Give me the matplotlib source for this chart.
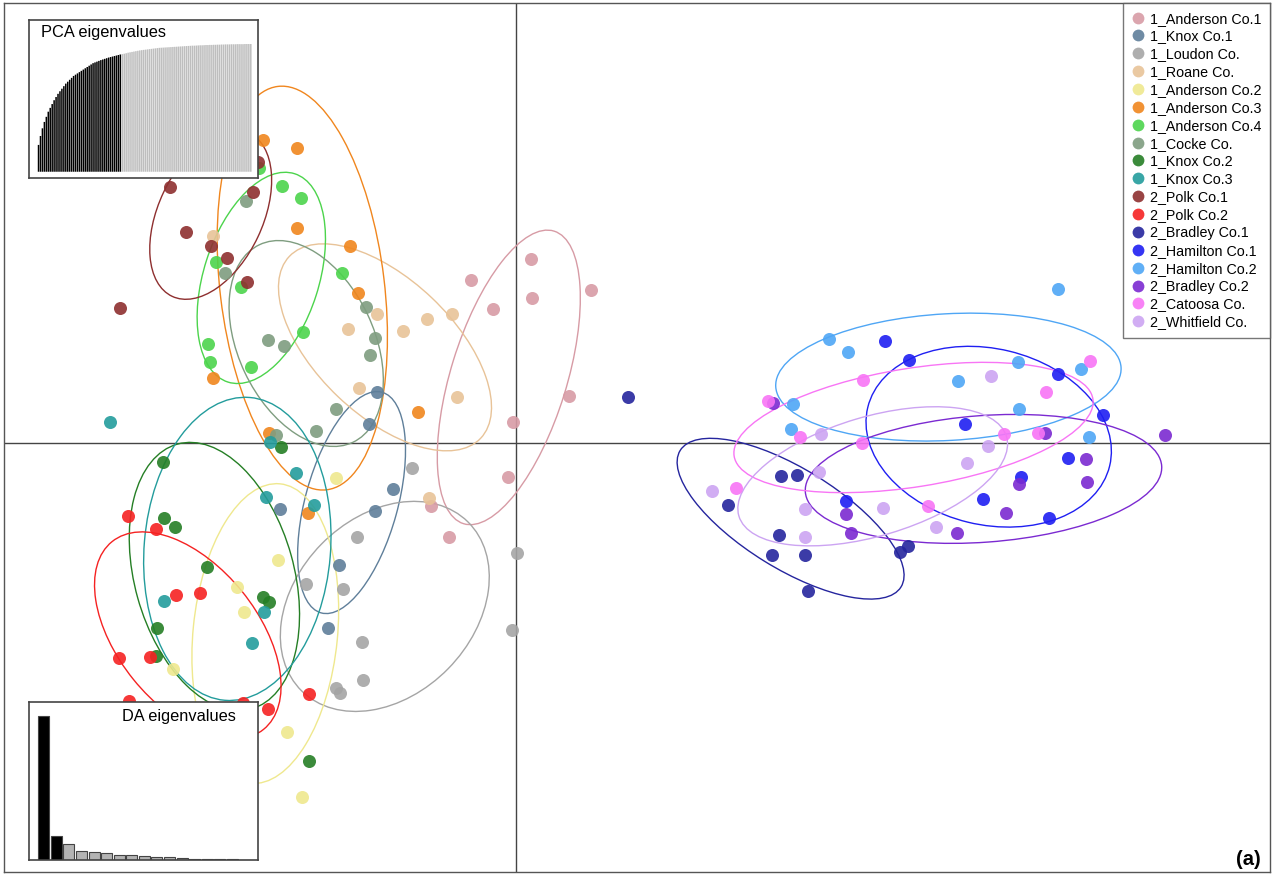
import numpy as np
import matplotlib.pyplot as plt
from matplotlib.patches import Ellipse
from matplotlib.lines import Line2D

plt.rcParams['font.family'] = ['Liberation Sans', 'DejaVu Sans']

# populations, in legend order
groups = ['1_Anderson Co.1', '1_Knox Co.1', '1_Loudon Co.', '1_Roane Co.',
          '1_Anderson Co.2', '1_Anderson Co.3', '1_Anderson Co.4', '1_Cocke Co.',
          '1_Knox Co.2', '1_Knox Co.3', '2_Polk Co.1', '2_Polk Co.2',
          '2_Bradley Co.1', '2_Hamilton Co.1', '2_Hamilton Co.2', '2_Bradley Co.2',
          '2_Catoosa Co.', '2_Whitfield Co.']

colors = ['#D79BA5', '#5F7F9A', '#A5A5A5', '#E8C398', '#EFE88E', '#F0861E',
          '#4CD44C', '#7F9D80', '#257F25', '#239C9C', '#8E2F2F', '#F52222',
          '#25259E', '#1F1FF2', '#4FA6F5', '#7B2AD1', '#F875F5', '#CCA4F2']

# discriminant scores per individual (LD1, LD2), one list per population
ld1 = [
    [-0.90, 0.30, 1.50, 0.32, -0.46, 1.06, -0.06, -0.16, -1.70, -1.34],
    [-2.78, -2.94, -2.46, -2.82, -4.72, -3.54, -3.76],
    [-2.08, -3.18, -4.20, -3.46, -3.08, -3.06, -3.60, -3.52, 0.02, -0.08],
    [-6.06, -2.78, -3.36, -2.26, -1.78, -1.28, -3.14, -1.18, -1.74],
    [-3.60, -4.76, -5.58, -5.44, -6.86, -4.58, -4.28],
    [-5.06, -4.38, -4.38, -3.32, -3.16, -6.06, -1.96, -4.94, -4.16, -5.32],
    [-5.14, -4.68, -4.30, -6.00, -5.50, -3.48, -4.26, -6.16, -6.12, -5.30],
    [-5.40, -5.82, -3.00, -2.82, -2.92, -4.96, -4.64, -3.60, -4.00, -4.80],
    [-4.70, -7.06, -7.04, -6.82, -6.18, -5.06, -4.94, -7.18, -7.20, -4.14],
    [-8.12, -4.92, -4.40, -5.00, -4.04, -7.04, -5.04, -5.28, -6.32],
    [-5.16, -6.92, -5.26, -6.60, -6.10, -5.78, -5.38, -7.92, -5.72, -6.22],
    [-7.76, -7.20, -6.80, -6.32, -7.94, -7.32, -7.74, -5.46, -4.96, -4.14],
    [2.24, 5.30, 5.62, 4.24, 5.26, 5.12, 5.78, 5.84, 7.68, 7.84],
    [7.38, 7.86, 10.84, 11.74, 8.98, 11.04, 10.10, 9.34, 10.66, 6.60],
    [10.84, 6.26, 6.64, 10.04, 11.30, 8.84, 5.54, 10.06, 5.50, 11.46],
    [5.14, 10.58, 12.98, 11.40, 11.42, 10.06, 9.80, 6.60, 6.70, 8.82],
    [5.04, 6.94, 11.48, 10.60, 5.68, 9.76, 10.44, 6.92, 4.40, 8.24],
    [9.50, 6.10, 9.44, 9.02, 6.06, 3.92, 5.78, 7.34, 5.78, 8.40],
]
ld2 = [
    [3.26, 3.68, 3.06, 2.90, 2.68, 0.94, 0.42, -0.68, -1.26, -1.88],
    [1.02, 0.38, -0.92, -1.36, -1.32, -2.44, -3.70],
    [-0.50, -1.88, -2.82, -2.92, -3.98, -4.74, -4.90, -5.00, -2.20, -3.74],
    [4.14, 2.58, 2.28, 2.24, 2.48, 2.58, 1.10, 0.92, -1.10],
    [-0.70, -2.34, -2.88, -3.38, -4.52, -5.78, -7.08],
    [6.06, 5.90, 4.30, 3.94, 3.00, 1.30, 0.62, 0.20, -1.40, 7.06],
    [5.50, 5.14, 4.90, 3.62, 3.12, 3.40, 2.22, 1.98, 1.62, 1.52],
    [4.84, 3.40, 2.72, 2.10, 1.76, 2.06, 1.94, 0.68, 0.24, 0.16],
    [-0.08, -0.38, -1.50, -1.68, -2.48, -3.08, -3.18, -3.70, -4.26, -6.36],
    [0.42, 0.02, -0.60, -1.08, -1.24, -3.16, -3.38, -4.00, -6.04],
    [5.62, 5.12, 5.02, 4.22, 3.94, 3.70, 3.22, 2.70, 6.26, 5.86],
    [-1.46, -1.72, -3.04, -3.00, -4.30, -4.28, -5.16, -5.20, -5.32, -5.02],
    [0.92, -0.66, -0.64, -1.24, -1.84, -2.24, -2.24, -2.96, -2.18, -2.06],
    [2.04, 1.66, 1.38, 0.56, 0.38, -0.30, -0.68, -1.12, -1.50, -1.16],
    [3.08, 2.08, 1.82, 1.62, 1.48, 1.24, 0.78, 0.68, 0.28, 0.12],
    [0.80, 0.20, 0.16, -0.32, -0.78, -0.82, -1.40, -1.42, -1.80, -1.80],
    [0.84, 1.26, 1.64, 1.02, 0.12, 0.18, 0.20, 0.00, -0.90, -1.26],
    [1.34, 0.18, -0.06, -0.40, -0.58, -0.96, -1.32, -1.30, -1.88, -1.68],
]

# cumulative variance of the PCA axes and the DA eigenvalues
pca_cumvar = [
    0.21, 0.28, 0.34, 0.39, 0.43, 0.47, 0.50, 0.53, 0.56, 0.585,
    0.61, 0.63, 0.65, 0.67, 0.69, 0.705, 0.72, 0.735, 0.75, 0.76,
    0.77, 0.78, 0.79, 0.80, 0.81, 0.82, 0.83, 0.84, 0.85, 0.856,
    0.862, 0.868, 0.874, 0.879, 0.884, 0.889, 0.894, 0.898, 0.902, 0.906,
    0.910, 0.914, 0.918,
    0.921, 0.924, 0.928, 0.932, 0.935, 0.938, 0.941, 0.944, 0.947, 0.95,
    0.952, 0.954, 0.956, 0.958, 0.96, 0.962, 0.964, 0.966, 0.968, 0.97,
    0.971, 0.972, 0.973, 0.974, 0.975, 0.976, 0.977, 0.978, 0.979, 0.98,
    0.981, 0.982, 0.983, 0.984, 0.985, 0.986, 0.987, 0.987, 0.988, 0.989,
    0.99, 0.99, 0.991, 0.992, 0.992, 0.993, 0.993, 0.994, 0.994, 0.995,
    0.995, 0.996, 0.996, 0.997, 0.997, 0.997, 0.998, 0.998, 0.998, 0.999,
    0.999, 0.999, 0.999, 1.0, 1.0, 1.0, 1.0]
n_pca_kept = 43
da_eig = [432, 72, 48, 28, 23, 20, 15, 14, 12, 10, 8, 5, 4, 4, 3, 3, 1]
n_da_kept = 2

W, H = 1276, 877
fig = plt.figure(figsize=(W / 100, H / 100), dpi=100, facecolor='white')
ax = fig.add_axes([4 / W, 5 / H, 1266 / W, 869 / H])

ax.axhline(0, color='#444444', lw=1.0, zorder=1)
ax.axvline(0, color='#444444', lw=1.0, zorder=1)

# 1.5-sd inertia ellipses per population, then the individuals
for xs, ys, col in zip(ld1, ld2, colors):
    xs, ys = np.asarray(xs), np.asarray(ys)
    cov = np.cov(xs, ys, bias=True)
    vals, vecs = np.linalg.eigh(cov)
    order = vals.argsort()[::-1]
    vals, vecs = vals[order], vecs[:, order]
    angle = np.degrees(np.arctan2(vecs[1, 0], vecs[0, 0]))
    ell = Ellipse((xs.mean(), ys.mean()), 2 * 1.5 * np.sqrt(vals[0]),
                  2 * 1.5 * np.sqrt(vals[1]), angle=angle,
                  facecolor='none', edgecolor=col, lw=1.0, zorder=2)
    ax.add_patch(ell)

for xs, ys, col in zip(ld1, ld2, colors):
    ax.scatter(xs, ys, s=88, color=col, alpha=0.9, linewidths=0, zorder=3)

ax.set_xlim(-10.24, 15.08)
ax.set_ylim(-8.58, 8.8)
ax.set_xticks([])
ax.set_yticks([])
for sp in ax.spines.values():
    sp.set_color('#555555')
    sp.set_linewidth(1.0)

handles = [Line2D([], [], marker='o', ls='none', markersize=8.5, color=c,
                  alpha=0.9, markeredgewidth=0) for c in colors]
leg = ax.legend(handles, groups, loc='upper right', bbox_to_anchor=(1, 1),
                borderaxespad=0, fontsize=10.3, frameon=True, fancybox=False,
                edgecolor='#555555', labelspacing=0.27, handlelength=0.8,
                handletextpad=0.45, borderpad=0.6)
leg.get_frame().set_linewidth(1.0)
leg.set_zorder(5)

ax.text(0.9925, 0.004, '(a)', transform=ax.transAxes, ha='right', va='bottom',
        fontsize=14.5, fontweight='bold')

# PCA eigenvalues inset
pca_ax = fig.add_axes([29 / W, (H - 178) / H, 229 / W, 158 / H])
n = len(pca_cumvar)
pca_cols = ['black' if i < n_pca_kept else '#BEBEBE' for i in range(n)]
pca_ax.bar(range(n), pca_cumvar, width=0.78, color=pca_cols, linewidth=0,
           snap=False)
pca_ax.set_xlim(-4.9, n + 2.7)
pca_ax.set_ylim(-0.049, 1.188)
pca_ax.set_xticks([])
pca_ax.set_yticks([])
pca_ax.text(0.052, 0.918, 'PCA eigenvalues', transform=pca_ax.transAxes,
            ha='left', va='center', fontsize=11.8)

# DA eigenvalues inset
da_ax = fig.add_axes([29 / W, 17 / H, 229 / W, 158 / H])
m = len(da_eig)
da_cols = ['black' if i < n_da_kept else '#B3B3B3' for i in range(m)]
da_ax.bar(range(m), da_eig, width=0.875, color=da_cols, edgecolor='#444444',
          linewidth=0.8)
da_ax.set_xlim(-1.18, 17.04)
da_ax.set_ylim(0, 474)
da_ax.set_xticks([])
da_ax.set_yticks([])
da_ax.text(0.904, 0.911, 'DA eigenvalues', transform=da_ax.transAxes,
           ha='right', va='center', fontsize=11.8)

for a in (pca_ax, da_ax):
    a.set_zorder(6)
    a.set_facecolor('white')
    for sp in a.spines.values():
        sp.set_color('#444444')
        sp.set_linewidth(1.2)

fig.savefig('out.png', dpi=100, facecolor='white')
